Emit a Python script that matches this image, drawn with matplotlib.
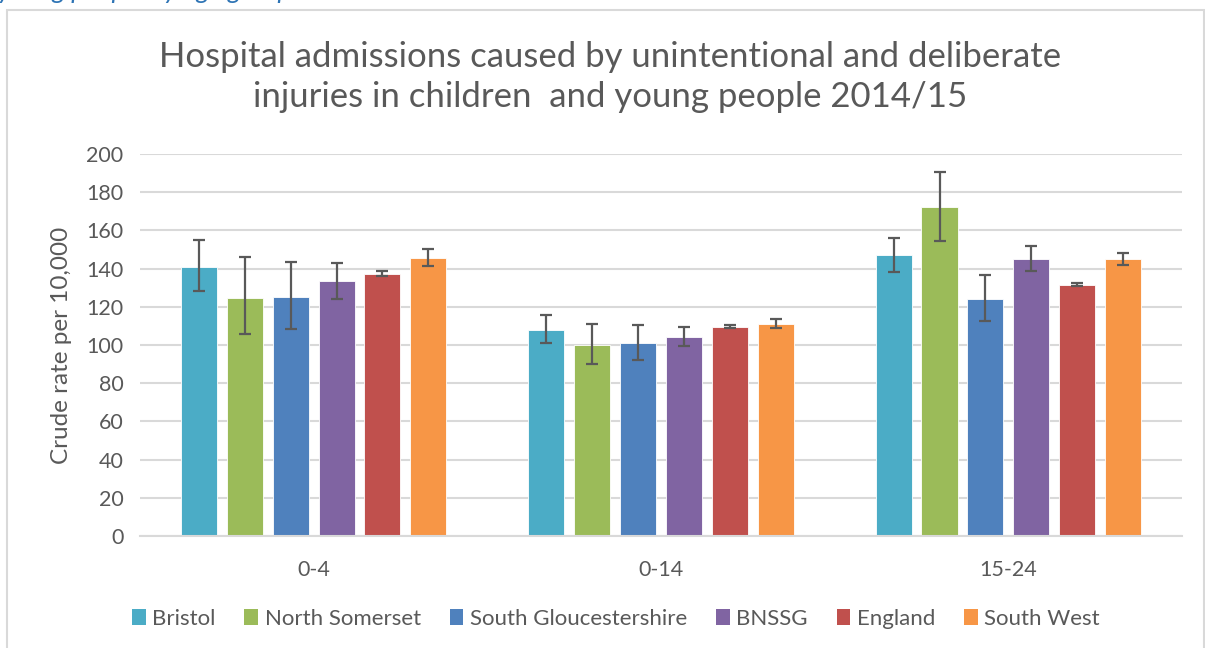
import matplotlib.pyplot as plt
import numpy as np
from matplotlib.patches import Rectangle, Patch

# age groups and areas
groups = ['0-4', '0-14', '15-24']
areas = ['Bristol', 'North Somerset', 'South Gloucestershire', 'BNSSG', 'England', 'South West']
colors = ['#4BACC6', '#9BBB59', '#4F81BD', '#8064A2', '#C0504D', '#F79646']

# crude rate per 10,000, one list per area (0-4, 0-14, 15-24)
bristol = [141, 108, 147]
north_somerset = [124.5, 100, 172]
south_glos = [125, 100.8, 124.3]
bnssg = [133.3, 104, 145]
england = [137.3, 109.6, 131.6]
south_west = [145.7, 110.9, 144.9]

# 95% confidence limits
bristol_lo = [128.3, 101, 138.4]
bristol_hi = [155, 115.7, 156]
ns_lo = [105.8, 90.2, 154.6]
ns_hi = [146, 111.2, 190.7]
sg_lo = [108.5, 92.1, 112.7]
sg_hi = [143.6, 110.3, 136.8]
bnssg_lo = [124.3, 99.5, 138.6]
bnssg_hi = [142.9, 109.3, 151.8]
eng_lo = [136.1, 109.1, 130.9]
eng_hi = [138.9, 110.6, 132.6]
sw_lo = [141.5, 108.9, 142]
sw_hi = [150.1, 113.4, 148]

values = [bristol, north_somerset, south_glos, bnssg, england, south_west]
lows = [bristol_lo, ns_lo, sg_lo, bnssg_lo, eng_lo, sw_lo]
highs = [bristol_hi, ns_hi, sg_hi, bnssg_hi, eng_hi, sw_hi]

plt.rcParams['font.family'] = ['Lato', 'DejaVu Sans']
grey = '#595959'

fig = plt.figure(figsize=(12.05, 6.48), dpi=100)
W, H = 1205, 648

# chart frame
fig.patches.append(Rectangle((7 / W, -0.1), 1197 / W, 1.1 - 10 / H, transform=fig.transFigure,
                             fill=False, edgecolor='#D9D9D9', linewidth=1.5))
# caption of the page above the chart, mostly cut off by the top edge
fig.text(-2 / W, 1 + 1 / H, 'young people by age group', style='italic', color='#2E74B5',
         fontsize=19, ha='left', va='baseline')

ax = fig.add_axes([140 / W, 1 - 536 / H, 1042 / W, 382 / H])

x = np.arange(len(groups))
pitch = 0.132
width = 0.104
for i in range(len(areas)):
    pos = x + (i - 2.5) * pitch
    v = np.array(values[i])
    err = [v - np.array(lows[i]), np.array(highs[i]) - v]
    ax.bar(pos, v, width, color=colors[i], edgecolor='white', linewidth=0.6, zorder=2)
    ax.errorbar(pos, v, yerr=err, fmt='none', ecolor=grey, elinewidth=1.6,
                capsize=4.5, capthick=1.6, zorder=3)

ax.set_xlim(-0.5, 2.5)
ax.set_ylim(0, 200)
ax.set_yticks(np.arange(0, 201, 20))
ax.set_xticks(x)
ax.set_xticklabels(groups)
ax.yaxis.grid(True, color='#D9D9D9', linewidth=1.5, zorder=0)
ax.set_axisbelow(True)
for s in ['top', 'right', 'left']:
    ax.spines[s].set_visible(False)
ax.spines['bottom'].set_color('#D9D9D9')
ax.spines['bottom'].set_linewidth(1.5)
ax.tick_params(length=0, labelsize=15.5, colors=grey)
ax.tick_params(axis='y', pad=12)
ax.tick_params(axis='x', pad=17)
ax.set_ylabel('Crude rate per 10,000', fontsize=17.5, color=grey, labelpad=10)

fig.text(610 / W, 1 - 77 / H, 'Hospital admissions caused by unintentional and deliberate\ninjuries in children  and young people 2014/15',
         ha='center', va='center', fontsize=25, color=grey, linespacing=1.32)

handles = [Patch(facecolor=c, edgecolor='none') for c in colors]
fig.legend(handles, areas, loc='center', bbox_to_anchor=(616 / W, 1 - 619 / H), ncol=6,
           frameon=False, fontsize=16, labelcolor=grey, handlelength=0.62, handleheight=0.75,
           handletextpad=0.3, columnspacing=1.29)

fig.savefig('out.png', dpi=100)
